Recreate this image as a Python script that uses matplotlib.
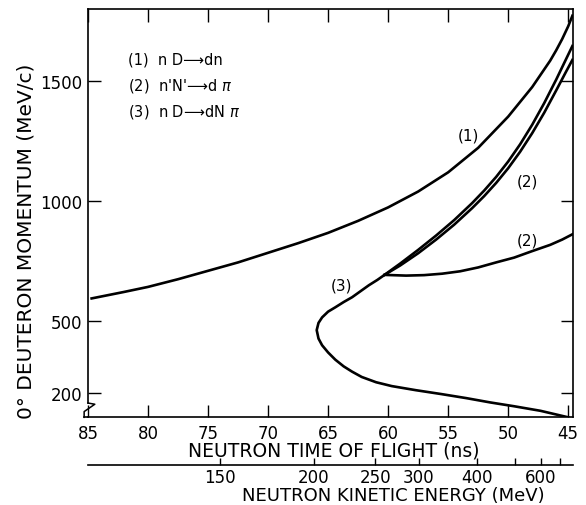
import numpy as np
import matplotlib.pyplot as plt
from matplotlib.ticker import FixedLocator, NullFormatter

# curve (1): n D -> d n
tof_1 = [84.7, 82.0, 80.0, 77.5, 75.0, 72.5, 70.0, 67.5, 65.0, 62.5, 60.0, 57.5,
         55.0, 52.5, 50.0, 48.0, 46.5, 46.0, 45.5, 45.0, 44.65]
mom_1 = [595, 622, 643, 675, 710, 745, 785, 825, 868, 918, 974, 1040,
         1120, 1222, 1352, 1475, 1585, 1628, 1675, 1728, 1772]

# curve (3): n D -> d N pi, lower branch, nose, and on up as inner line of (2)
tof_3 = [45.0, 47.3, 49.5, 51.5, 53.5, 55.6, 57.7, 59.7, 61.0, 62.2, 63.0, 63.7,
         64.4, 65.0, 65.5, 65.8, 65.95, 65.8, 65.5, 65.0, 64.4, 63.7, 63.0, 62.3,
         61.6, 60.9, 60.3, 59.5, 59.0, 57.5, 56.0, 54.5, 53.0, 52.0, 51.0, 50.0,
         49.0, 48.0, 47.0, 46.0, 45.2, 44.65]
mom_3 = [100, 127, 146, 162, 180, 197, 213, 230, 246, 268, 290, 312,
         340, 370, 400, 428, 463, 493, 516, 540, 558, 580, 600, 625,
         650, 672, 693, 722, 740, 797, 857, 921, 992, 1044, 1101, 1165,
         1237, 1318, 1408, 1506, 1589, 1646]

# curve (2): n'N' -> d pi, upper (outer line) and lower branch
tof_2a = [60.3, 59.5, 59.0, 57.5, 56.0, 54.5, 53.0, 52.0, 51.0, 50.0, 49.0, 48.0,
          47.0, 46.0, 45.2, 44.65]
mom_2a = [693, 717, 732, 783, 840, 902, 971, 1021, 1076, 1137, 1206, 1283,
          1368, 1461, 1537, 1588]
tof_2b = [60.3, 58.5, 57.0, 55.5, 54.0, 52.5, 51.0, 49.5, 48.0, 46.5, 45.5, 44.65]
mom_2b = [693, 690, 692, 698, 708, 724, 745, 765, 792, 818, 840, 862]

tof_ticks = [85, 80, 75, 70, 65, 60, 55, 50, 45]
mom_ticks = [200, 500, 1000, 1500]
ke_ticks = [150, 200, 250, 300, 400, 600]
ke_minor = [500, 700, 800]

# flight path for the energy scale
M_N = 939.57      # MeV
C_LIGHT = 0.29979  # m/ns
FLIGHT_PATH = 11.23  # m


def tof_to_ke(t):
    t = np.clip(np.asarray(t, dtype=float), 1e-3, None)
    beta = np.clip(FLIGHT_PATH / (C_LIGHT * t), 0, 0.999999)
    return M_N * (1 / np.sqrt(1 - beta ** 2) - 1)


def ke_to_tof(ke):
    gamma = 1 + np.clip(np.asarray(ke, dtype=float), 1e-6, None) / M_N
    beta = np.sqrt(1 - 1 / gamma ** 2)
    return FLIGHT_PATH / (C_LIGHT * beta)


plt.rcParams['font.family'] = 'DejaVu Sans'
fig = plt.figure(figsize=(5.86, 5.06), dpi=100)
ax = fig.add_axes([0.1502, 0.1733, 0.8276, 0.8069])

lw = 1.9
ax.plot(tof_1, mom_1, color='black', lw=lw)
ax.plot(tof_3, mom_3, color='black', lw=lw)
ax.plot(tof_2a, mom_2a, color='black', lw=lw)
ax.plot(tof_2b, mom_2b, color='black', lw=lw)

ax.set_xlim(84.7, 44.6)
ax.set_ylim(100, 1800)
ax.set_xticks(tof_ticks)
ax.set_yticks(mom_ticks)
ax.tick_params(direction='in', length=9, width=1.0, labelsize=12,
               top=True, right=True)
ax.tick_params(axis='x', pad=5)
ax.tick_params(axis='y', pad=4)
for s in ax.spines.values():
    s.set_linewidth(1.2)

# axis break mark on the left spine
ax.spines['left'].set_bounds(160, 1800)
ax.plot([0.0, 0.014, -0.008, -0.008], [0.035, 0.032, 0.014, 0.0],
        transform=ax.transAxes, color='black', lw=1.1, clip_on=False)
ax.plot([-0.008, 0.0], [0.0, 0.0], transform=ax.transAxes, color='black',
        lw=1.2, clip_on=False)

# curve labels
ax.text(53.3, 1275, '(1)', fontsize=11, ha='center', va='center')
ax.text(48.4, 1084, '(2)', fontsize=11, ha='center', va='center')
ax.text(48.4, 838, '(2)', fontsize=11, ha='center', va='center')
ax.text(63.9, 650, '(3)', fontsize=11, ha='center', va='center')

# reaction key
ax.text(0.0825, 0.8775, '(1)  n D\u27f6dn', transform=ax.transAxes,
        fontsize=10.5, va='center')
ax.text(0.0825, 0.8150, "(2)  n'N'\u27f6d $\\pi$", transform=ax.transAxes,
        fontsize=10.5, va='center')
ax.text(0.0825, 0.7500, '(3)  n D\u27f6dN $\\pi$', transform=ax.transAxes,
        fontsize=10.5, va='center')

ax.text(0.507, -0.080, 'NEUTRON TIME OF FLIGHT (ns)', transform=ax.transAxes,
        fontsize=13.5, ha='center', va='center')
ax.text(-0.128, 0.434, '0\u00b0 DEUTERON MOMENTUM (MeV/c)', transform=ax.transAxes,
        fontsize=14.5, ha='center', va='center', rotation=90)

# kinetic energy scale below
ax2 = ax.secondary_xaxis(-0.117, functions=(tof_to_ke, ke_to_tof))
ax2.xaxis.set_major_locator(FixedLocator(ke_ticks))
ax2.xaxis.set_minor_locator(FixedLocator(ke_minor))
ax2.xaxis.set_minor_formatter(NullFormatter())
ax2.tick_params(which='both', direction='in', length=5, width=1.0,
                labelsize=12, pad=2)
ax2.spines['bottom'].set_linewidth(1.2)
ax.text(0.629, -0.190, 'NEUTRON KINETIC ENERGY (MeV)', transform=ax.transAxes,
        fontsize=13, ha='center', va='center')

fig.savefig('out.png', dpi=100)
